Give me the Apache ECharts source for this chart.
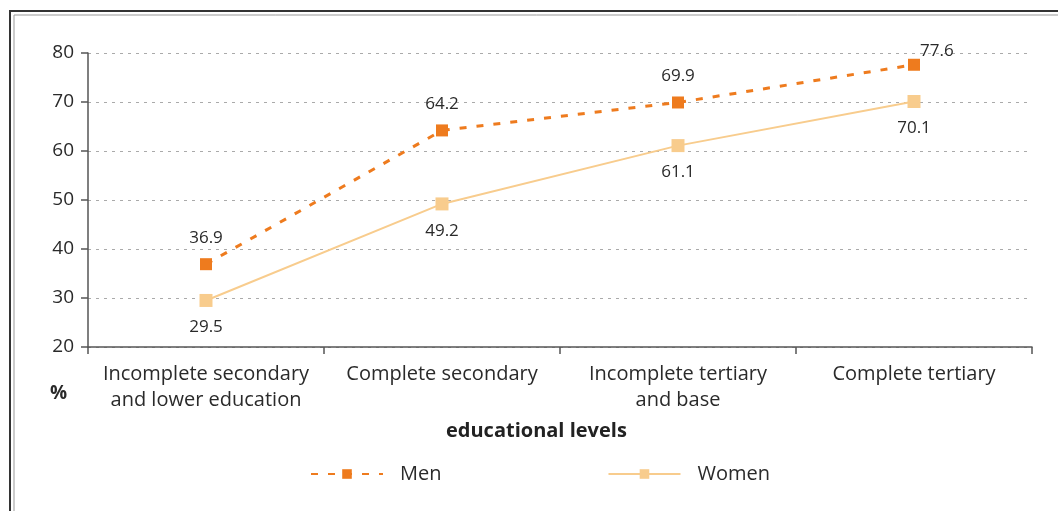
<!DOCTYPE html>
<html>
<head>
<meta charset="utf-8">
<script src="https://cdn.jsdelivr.net/npm/echarts@6/dist/echarts.min.js"></script>
<style>
html,body{margin:0;padding:0;background:#fff;}
#chart{width:1058px;height:511px;}
</style>
</head>
<body>
<div id="chart"></div>
<script>
const categories = ['Incomplete secondary\nand lower education', 'Complete secondary', 'Incomplete tertiary\nand base', 'Complete tertiary'];
const menValues = [36.9, 64.2, 69.9, 77.6];
const womenValues = [29.5, 49.2, 61.1, 70.1];
const yTicks = [20, 30, 40, 50, 60, 70, 80];

const FONT = '"Open Sans", "Noto Sans", sans-serif';
const MEN = '#EE7B1E';
const WOMEN = '#F8CC8D';

const chart = echarts.init(document.getElementById('chart'));
chart.setOption({
  animation: false,
  backgroundColor: '#fff',
  textStyle: {fontFamily: FONT},
  grid: {left: 88, right: 26, top: 53, bottom: 164, containLabel: false},
  xAxis: {
    type: 'category',
    data: categories,
    boundaryGap: true,
    axisLine: {show: true, lineStyle: {color: '#555', width: 1.5}},
    axisTick: {show: true, length: 7, lineStyle: {color: '#555', width: 1.5}},
    axisLabel: {fontSize: 20, color: '#2a2a2a', margin: 14, lineHeight: 26, fontFamily: FONT, interval: 0}
  },
  yAxis: {
    type: 'value',
    min: yTicks[0],
    max: yTicks[yTicks.length - 1],
    interval: 10,
    axisLine: {show: true, lineStyle: {color: '#555', width: 1.5}},
    axisTick: {show: true, length: 7, lineStyle: {color: '#555', width: 1.5}},
    axisLabel: {fontSize: 19, color: '#2a2a2a', margin: 14, fontFamily: FONT},
    splitLine: {show: true, lineStyle: {color: '#aaa', type: [3, 5], width: 1}}
  },
  legend: {
    left: 305,
    top: 459,
    itemWidth: 72,
    itemHeight: 12,
    itemGap: 166,
    textStyle: {fontSize: 20, color: '#2a2a2a', fontFamily: FONT, padding: [0, 0, 0, 12]},
    data: ['Men', 'Women']
  },
  series: [
    {
      name: 'Men',
      type: 'line',
      data: menValues,
      symbol: 'rect',
      symbolSize: 12,
      itemStyle: {color: MEN},
      lineStyle: {color: MEN, width: 3, type: [7, 10]},
      label: {
        show: true, position: 'top', distance: 12, fontSize: 17, color: '#2a2a2a', fontFamily: FONT,
        formatter: p => p.value.toFixed(1)
      },
      labelLayout: function (params) {
        if (params.dataIndex === 3) {
          return {x: params.rect.x + params.rect.width / 2 + 6, y: params.rect.y - 8, align: 'left', verticalAlign: 'middle'};
        }
      },
      z: 3
    },
    {
      name: 'Women',
      type: 'line',
      data: womenValues,
      symbol: 'rect',
      symbolSize: 13,
      itemStyle: {color: WOMEN},
      lineStyle: {color: WOMEN, width: 2},
      label: {
        show: true, position: 'bottom', distance: 12, fontSize: 17, color: '#2a2a2a', fontFamily: FONT,
        formatter: p => p.value.toFixed(1)
      },
      z: 2
    }
  ],
  graphic: [
    {type: 'rect', shape: {x: 10, y: 11, width: 1200, height: 700}, style: {fill: null, stroke: '#333', lineWidth: 2}, silent: true},
    {type: 'rect', shape: {x: 14, y: 15, width: 1200, height: 700}, style: {fill: null, stroke: '#999', lineWidth: 1}, silent: true},
    {type: 'text', left: 50, top: 384, style: {text: '%', fontSize: 19, fontWeight: 'bold', fill: '#2a2a2a', fontFamily: FONT}},
    {type: 'text', left: 446, top: 421, style: {text: 'educational levels', fontSize: 20, fontWeight: 'bold', fill: '#222', fontFamily: FONT}}
  ]
});
</script>
</body>
</html>
